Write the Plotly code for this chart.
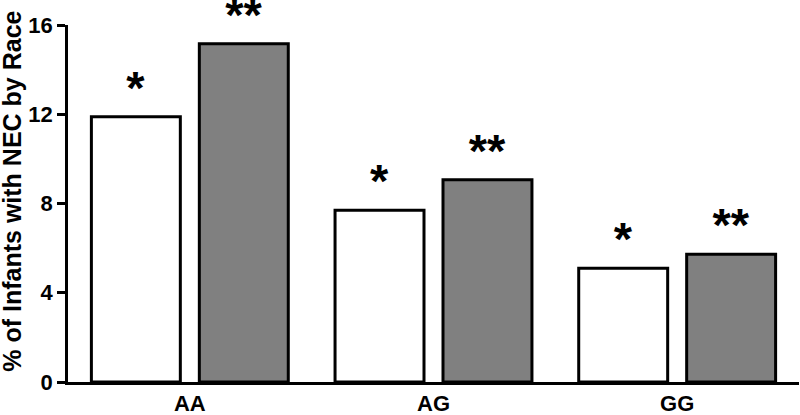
import plotly.graph_objects as go

categories = ["AA", "AG", "GG"]
series_white = [11.89, 7.70, 5.10]
series_grey = [15.16, 9.07, 5.72]
labels_white = ["*", "*", "*"]
labels_grey = ["**", "**", "**"]
y_ticks = [0, 4, 8, 12, 16]
y_title = "% of Infants with NEC by Race"

FONT = "Arial, Liberation Sans, Helvetica, sans-serif"

fig = go.Figure()
fig.add_trace(go.Bar(
    x=categories, y=series_white, name="Series 1",
    marker=dict(color="#ffffff", line=dict(color="#000000", width=3)),
    text=labels_white, textposition="outside", cliponaxis=False,
    textfont=dict(family=FONT, size=47, color="#000000", weight="bold"),
    hoverinfo="skip",
))
fig.add_trace(go.Bar(
    x=categories, y=series_grey, name="Series 2",
    marker=dict(color="#808080", line=dict(color="#000000", width=3)),
    text=labels_grey, textposition="outside", cliponaxis=False,
    textfont=dict(family=FONT, size=47, color="#000000", weight="bold"),
    hoverinfo="skip",
))

fig.update_layout(
    width=800, height=415,
    margin=dict(l=68, r=1, t=25, b=33, autoexpand=False),
    barmode="group", bargap=0.114, bargroupgap=0.176,
    plot_bgcolor="#ffffff", paper_bgcolor="#ffffff",
    showlegend=False,
    font=dict(family=FONT, color="#000000"),
)
fig.update_xaxes(
    range=[-0.5, 2.5], showline=True, linecolor="#000000", linewidth=2.5,
    ticks="", showgrid=False, zeroline=False, automargin=False,
    tickfont=dict(family=FONT, size=22, color="#000000", weight="bold"),
)
fig.update_yaxes(
    range=[0, 16], tickvals=y_ticks, showline=True, linecolor="#000000", linewidth=2.5,
    ticks="outside", ticklen=8, tickwidth=2.5, tickcolor="#000000",
    showgrid=False, zeroline=False, automargin=False,
    tickfont=dict(family=FONT, size=22, color="#000000", weight="bold"),
)
fig.add_annotation(
    text="<b>" + y_title + "</b>", textangle=-90,
    xref="paper", yref="paper", x=-0.077, y=0.535,
    xanchor="center", yanchor="middle", showarrow=False,
    font=dict(family=FONT, size=25, color="#000000"),
)
fig.write_html(
    "out.html",
    config={"displayModeBar": False},
    post_script="document.body.style.margin='0';document.body.style.overflow='hidden';",
)
